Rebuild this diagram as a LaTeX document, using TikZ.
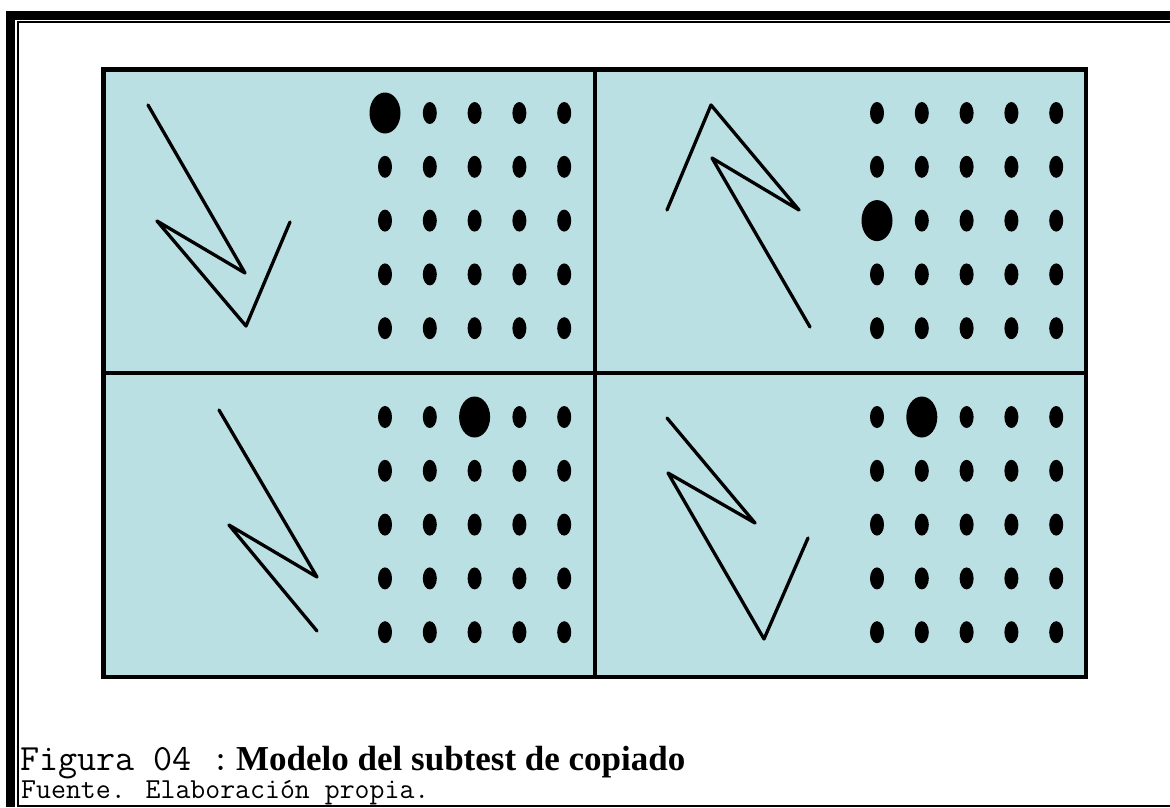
\documentclass[tikz,border=0pt]{standalone}
\usepackage{fontspec}
\newfontfamily\capserif{Liberation Serif}
\definecolor{panelfill}{RGB}{187,224,227}
\tikzset{
  frameline/.style={fill=black},
  panel/.style={fill=panelfill, draw=black, line width=4.5},
  divider/.style={draw=black, line width=4},
  zigzag/.style={draw=black, line width=3.3, line join=round, line cap=round},
  smalldot/.style={fill=black},
  caption/.style={inner sep=0pt, anchor=base west},
}
% one 5x5 grid of dots; #1,#2 = first column x / first row y
\newcommand{\dotgrid}[4]{%
  \foreach \c in {0,...,4}{
    \foreach \r in {0,...,4}{
      \fill[smalldot] ({#1+\c*44.8},{#2+\r*53.8}) ellipse [x radius=7, y radius=11];
    }
  }
  % the enlarged dot: column #3, row #4
  \fill[black] ({#1+#3*44.8},{#2+#4*53.8}) ellipse [x radius=15.5, y radius=20.5];
}
\begin{document}
\begin{tikzpicture}[x=1pt,y=-1pt]
\useasboundingbox (0,0) rectangle (1170,807);
\fill[white] (0,0) rectangle (1170,807);

% page frame: thick and thin rules on top and left, thin rule at the bottom
\fill[frameline] (6,11) rectangle (1170,20);
\fill[frameline] (6,11) rectangle (15,807);
\fill[frameline] (17,21) rectangle (1170,23);
\fill[frameline] (17,21) rectangle (19,807);
\fill[frameline] (17,805) rectangle (1170,807);

% four panels
\draw[panel] (103.5,69.5) rectangle (1086,677);
\draw[divider] (595,69.5) -- (595,677);
\draw[divider] (103.5,372.5) -- (1086,372.5);

% zigzag figures
\draw[zigzag] (148,105) -- (245,273) -- (157,221) -- (246,326) -- (290,222);
\draw[zigzag] (667,210) -- (711,105) -- (799,210) -- (712,158) -- (810,327);
\draw[zigzag] (219,410) -- (317,577) -- (229,525) -- (317,631);
\draw[zigzag] (667,418) -- (755,523) -- (668,473) -- (764,639) -- (808,538);

% dot grids
\dotgrid{385}{113}{0}{0}
\dotgrid{877}{113}{0}{2}
\dotgrid{385}{417}{2}{0}
\dotgrid{877}{417}{1}{0}

% caption
\node[caption, font=\ttfamily\fontsize{37}{37}\selectfont] (figlabel) at (20,770) {Figura 04};
\node[inner sep=0pt, anchor=base, font=\ttfamily\fontsize{37}{37}\selectfont] (colon) at (221,770) {:};
\node[caption, font=\capserif\bfseries\fontsize{35}{35}\selectfont] (figtitle) at (236,770) {Modelo del subtest de copiado};
\node[caption, font=\ttfamily\fontsize{29}{29}\selectfont] (source) at (21,798) {Fuente. Elaboración propia.};
\end{tikzpicture}
\end{document}
